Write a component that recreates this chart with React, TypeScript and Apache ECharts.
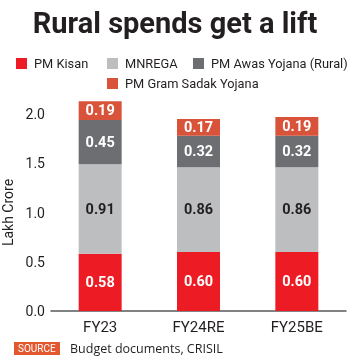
import React, { useEffect, useRef } from "react";
import * as echarts from "echarts";

const categories = ["FY23", "FY24RE", "FY25BE"];
const pmKisan = [0.58, 0.6, 0.6];
const mnrega = [0.91, 0.86, 0.86];
const pmAwas = [0.45, 0.32, 0.32];
const pmGramSadak = [0.19, 0.17, 0.19];
const yTicks = { min: 0, max: 2.0, interval: 0.5 };

const FONT = "Roboto, 'Liberation Sans', sans-serif";
const DARK = "#231f20";

export default function App() {
  const ref = useRef<HTMLDivElement>(null);
  useEffect(() => {
    if (!ref.current) return;
    const chart = echarts.init(ref.current, null, { renderer: "svg" });
    const mkSeries = (name: string, data: number[], color: string, labelColor: string) => ({
      name,
      type: "bar",
      stack: "total",
      data,
      barWidth: 43,
      clip: false,
      itemStyle: { color },
      label: {
        show: true,
        position: "inside",
        color: labelColor,
        fontFamily: FONT,
        fontWeight: "bold",
        fontSize: 14.5,
        formatter: (p: any) => p.value.toFixed(2),
      },
    });
    const mkLegend = (name: string, left: number, top: number) => ({
      data: [name],
      left,
      top,
      padding: 0,
      itemWidth: 11,
      itemHeight: 11,
      icon: "rect",
      textStyle: { fontFamily: FONT, fontSize: 12.8, color: DARK, padding: [0, 0, 0, 2] },
    });
    chart.setOption({
      animation: false,
      title: {
        text: "Rural spends get a lift",
        left: "center",
        top: 8,
        padding: 0,
        textStyle: { fontFamily: FONT, fontWeight: "bold", fontSize: 29, color: DARK },
      },
      legend: [
        mkLegend("PM Kisan", 16, 57),
        mkLegend("MNREGA", 107, 57),
        mkLegend("PM Awas Yojana (Rural)", 193, 57),
        mkLegend("PM Gram Sadak Yojana", 107, 77),
      ],
      grid: { left: 51, right: 4, top: 114, bottom: 47, outerBoundsMode: "none" },
      xAxis: {
        type: "category",
        data: categories,
        axisLine: { lineStyle: { color: "#58595b", width: 1.5 } },
        axisTick: { show: false },
        axisLabel: { fontFamily: FONT, fontSize: 15, color: DARK, margin: 8 },
      },
      yAxis: {
        type: "value",
        min: yTicks.min,
        max: yTicks.max,
        interval: yTicks.interval,
        name: "Lakh Crore",
        nameLocation: "middle",
        nameGap: 27,
        nameTextStyle: { fontFamily: FONT, fontSize: 14, color: DARK },
        axisLine: { show: false },
        axisTick: { show: false },
        splitLine: { show: false },
        axisLabel: {
          fontFamily: FONT,
          fontSize: 14,
          color: DARK,
          margin: 6,
          formatter: (v: number) => v.toFixed(1),
        },
      },
      series: [
        mkSeries("PM Kisan", pmKisan, "#ed1c24", "#ffffff"),
        mkSeries("MNREGA", mnrega, "#bcbec0", DARK),
        mkSeries("PM Awas Yojana (Rural)", pmAwas, "#6d6e71", "#ffffff"),
        mkSeries("PM Gram Sadak Yojana", pmGramSadak, "#d9533a", "#ffffff"),
      ],
      graphic: [
        { type: "rect", left: 14, top: 342, shape: { width: 46, height: 13 }, style: { fill: "#e2582f" } },
        {
          type: "text",
          left: 18,
          top: 343.5,
          style: { text: "SOURCE", fill: "#ffffff", font: "10px Roboto, sans-serif" },
        },
        {
          type: "text",
          left: 70,
          top: 341.5,
          style: { text: "Budget documents, CRISIL", fill: DARK, font: "12.5px 'Open Sans', sans-serif" },
        },
      ],
    });
    return () => chart.dispose();
  }, []);
  return <div ref={ref} style={{ position: "fixed", left: 0, top: 0, width: 350, height: 358 }} />;
}
